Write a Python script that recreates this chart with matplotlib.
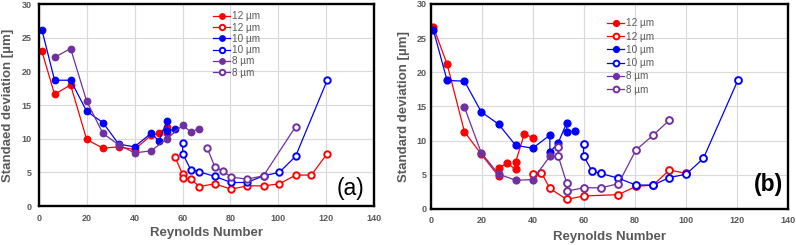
import matplotlib.pyplot as plt

plt.rcParams['font.family'] = ['Liberation Sans', 'DejaVu Sans']

RED = '#FF0000'
BLUE = '#0000FF'
PURPLE = '#7030A0'
GRAY = '#595959'

# ---- panel (a) ----
a_red_f_x = [1.2, 6.5, 13.2, 19.9, 26.7, 33.3, 39.9, 46.8, 50.1, 53.5, 53.5]
a_red_f_y = [23.0, 16.6, 18.0, 9.9, 8.6, 8.8, 8.4, 10.5, 10.8, 11.8, 10.9]
a_red_o_x = [56.8, 60.0, 60.0, 63.5, 66.9, 73.5, 80.3, 86.9, 93.8, 100.4, 107.2, 113.8, 120.4]
a_red_o_y = [7.3, 4.7, 4.2, 4.0, 2.9, 3.3, 2.5, 3.0, 3.0, 3.3, 4.6, 4.6, 7.8]
a_blue_f_x = [1.2, 6.5, 13.2, 19.9, 26.7, 33.3, 39.9, 46.8, 50.1, 53.5, 53.5, 56.8]
a_blue_f_y = [26.2, 18.7, 18.7, 14.1, 12.4, 9.2, 8.8, 10.8, 9.7, 12.6, 11.2, 11.4]
a_blue_o_x = [60.0, 60.0, 63.4, 66.8, 73.5, 80.3, 86.9, 93.8, 100.4, 107.2, 120.4]
a_blue_o_y = [9.4, 7.8, 5.4, 5.1, 4.4, 3.5, 3.5, 4.5, 5.0, 7.4, 18.7]
a_purp_f_x = [6.5, 13.2, 19.9, 26.7, 33.3, 39.9, 46.8, 53.5, 60.0, 63.5, 66.8]
a_purp_f_y = [22.1, 23.4, 15.6, 10.8, 9.1, 7.9, 8.2, 10.0, 12.0, 11.0, 11.5]
a_purp_o_x = [70.3, 73.5, 76.9, 80.2, 86.9, 93.8, 107.2]
a_purp_o_y = [8.6, 5.8, 5.2, 4.3, 4.0, 4.5, 11.8]

# ---- panel (b) ----
b_red_f_x = [0.9, 6.3, 13.1, 19.7, 26.5, 26.5, 29.9, 33.2, 33.2, 36.6, 39.9]
b_red_f_y = [26.6, 21.2, 11.3, 8.0, 4.8, 6.0, 6.7, 5.8, 6.9, 11.0, 10.4]
b_red_o_x = [39.9, 43.3, 46.6, 53.2, 59.8, 73.5, 80.3, 87.1, 93.5, 100.1]
b_red_o_y = [5.1, 5.3, 3.0, 1.4, 1.9, 2.1, 3.3, 3.5, 5.7, 5.2]
b_blue_f_x = [0.9, 6.3, 13.1, 19.7, 26.5, 33.2, 39.9, 46.6, 46.6, 49.9, 53.2, 53.2, 56.6]
b_blue_f_y = [26.2, 18.8, 18.7, 14.2, 12.4, 9.3, 8.9, 10.8, 8.3, 9.7, 12.6, 11.2, 11.4]
b_blue_o_x = [59.8, 59.8, 63.2, 66.6, 73.5, 80.3, 87.1, 93.5, 100.1, 106.8, 120.4]
b_blue_o_y = [9.5, 7.8, 5.5, 5.2, 4.5, 3.5, 3.5, 4.6, 5.1, 7.4, 18.9]
b_purp_f_x = [13.1, 19.7, 26.5, 33.2, 39.9, 46.6]
b_purp_f_y = [14.9, 8.2, 5.1, 4.2, 4.3, 7.7]
b_purp_o_x = [49.9, 49.9, 53.2, 53.2, 59.8, 66.6, 73.5, 80.3, 87.1, 93.5]
b_purp_o_y = [9.0, 7.7, 3.8, 2.6, 3.1, 3.1, 3.7, 8.6, 10.8, 13.0]

labels = ['12 µm', '12 µm', '10 µm', '10 µm', '8 µm', '8 µm']


def draw(ax, series, ms, xpad, ypad, xlpad):
    for (x, y, c, filled), lab in zip(series, labels):
        if filled:
            ax.plot(x, y, '-o', color=c, lw=0.9, ms=ms, mfc=c, mec=c, label=lab)
        else:
            ax.plot(x, y, '-o', color=c, lw=0.9, ms=ms, mfc='white', mec=c,
                    mew=1.4, label=lab)
    ax.set_xlim(0, 140)
    ax.set_ylim(0, 30)
    ax.set_xticks(range(0, 141, 20))
    ax.set_yticks(range(0, 31, 5))
    ax.grid(True, color='#D9D9D9', lw=0.8)
    ax.set_axisbelow(True)
    for s in ax.spines.values():
        s.set_linewidth(1.7)
        s.set_color('black')
    ax.tick_params(length=0, labelsize=6.5, labelcolor=GRAY)
    ax.tick_params(axis='x', pad=xpad)
    ax.tick_params(axis='y', pad=ypad)
    for t in ax.get_xticklabels() + ax.get_yticklabels():
        t.set_fontweight('bold')
    ax.set_xlabel('Reynolds Number', fontsize=9.5, fontweight='bold', color=GRAY,
                  labelpad=xlpad)


fig = plt.figure(figsize=(7.96, 2.45), dpi=100)
ax1 = fig.add_axes([0.049, 0.159, 0.421, 0.824])
ax2 = fig.add_axes([0.5415, 0.147, 0.4485, 0.837])

draw(ax1, [(a_red_f_x, a_red_f_y, RED, True), (a_red_o_x, a_red_o_y, RED, False),
           (a_blue_f_x, a_blue_f_y, BLUE, True), (a_blue_o_x, a_blue_o_y, BLUE, False),
           (a_purp_f_x, a_purp_f_y, PURPLE, True), (a_purp_o_x, a_purp_o_y, PURPLE, False)],
     4.6, 6.0, 5.5, 2.5)
ax1.set_ylabel('Standaed deviation [µm]', fontsize=9.5, fontweight='bold', color=GRAY,
               labelpad=5)
ax1.text(0.97, 0.03, '(a)', transform=ax1.transAxes, ha='right', va='bottom',
         fontsize=16.5)
ax1.legend(frameon=False, loc='upper left', bbox_to_anchor=(0.52, 0.965),
           borderaxespad=0, borderpad=0, handlelength=1.7, handletextpad=0.2,
           labelspacing=0.13, fontsize=7.2, labelcolor=GRAY, markerscale=0.85)

draw(ax2, [(b_red_f_x, b_red_f_y, RED, True), (b_red_o_x, b_red_o_y, RED, False),
           (b_blue_f_x, b_blue_f_y, BLUE, True), (b_blue_o_x, b_blue_o_y, BLUE, False),
           (b_purp_f_x, b_purp_f_y, PURPLE, True), (b_purp_o_x, b_purp_o_y, PURPLE, False)],
     4.9, 5.0, 3.0, 4.5)
ax2.set_ylabel('Standard deviation [µm]', fontsize=9.5, fontweight='bold', color=GRAY,
               labelpad=5)
ax2.text(0.985, 0.065, '(b)', transform=ax2.transAxes, ha='right', va='bottom',
         fontsize=16.5, fontweight='bold')
ax2.legend(frameon=False, loc='upper left', bbox_to_anchor=(0.493, 0.93),
           borderaxespad=0, borderpad=0, handlelength=1.7, handletextpad=0.2,
           labelspacing=0.33, fontsize=7.2, labelcolor=GRAY, markerscale=0.85)

fig.savefig('out.png', dpi=100)
